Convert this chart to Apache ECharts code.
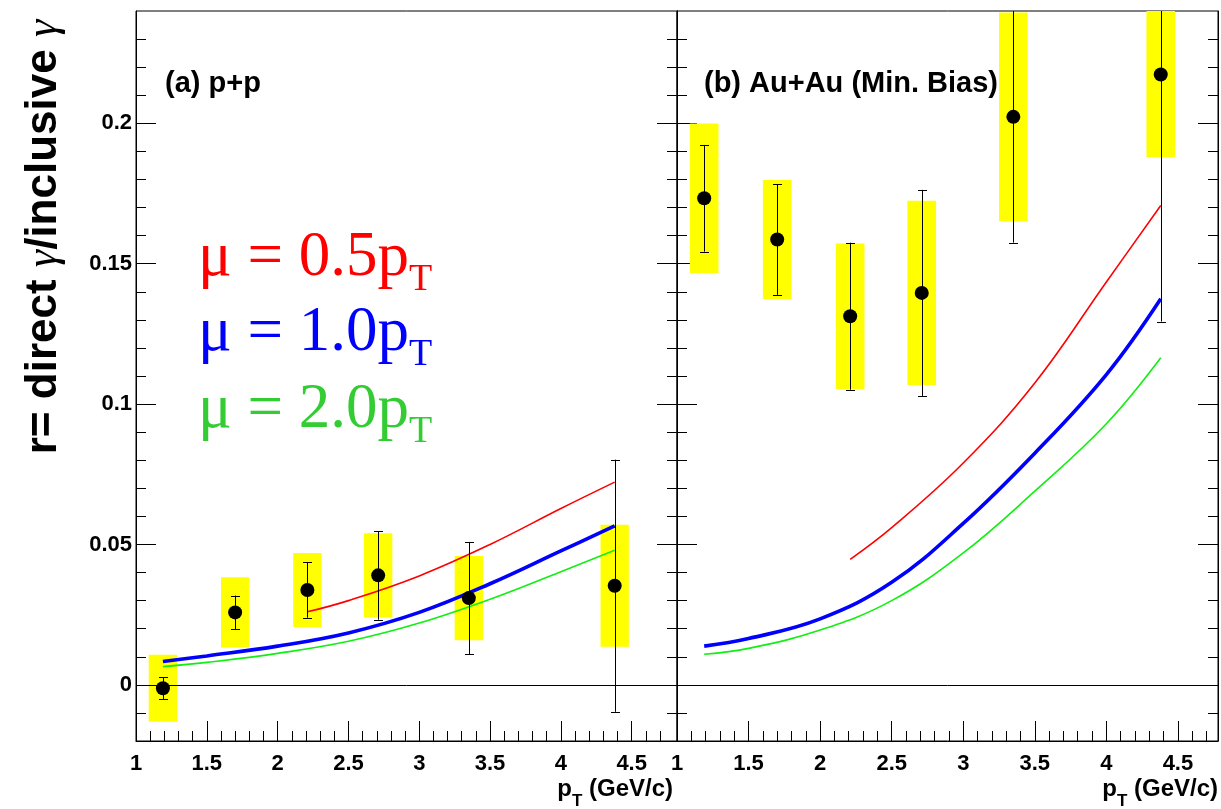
<!DOCTYPE html>
<html>
<head>
<meta charset="utf-8">
<script src="https://cdn.jsdelivr.net/npm/echarts@6/dist/echarts.min.js"></script>
<style>
html,body{margin:0;padding:0;background:#fff;}
#c{width:1221px;height:809px;}
</style>
</head>
<body>
<div id="c"></div>
<script>
// ---------------- data ----------------
const ptPoints = [1.19, 1.70, 2.21, 2.71, 3.35, 4.38];

// (a) p+p
const ppValues  = [-0.0012, 0.0258, 0.0338, 0.0390, 0.0309, 0.0353];
const ppStatErr = [0.0039, 0.0060, 0.0099, 0.0158, 0.0200, 0.0449];
const ppSysErr  = [0.0119, 0.0125, 0.0132, 0.0150, 0.0150, 0.0217];

// (b) Au+Au (Min. Bias)
const auValues  = [0.1733, 0.1586, 0.1313, 0.1396, 0.2023, 0.2174];
const auStatErr = [0.0190, 0.0197, 0.0262, 0.0367, 0.0448, 0.0880];
const auSysErr  = [0.0266, 0.0212, 0.0259, 0.0328, 0.0372, 0.0294];

const sysHalfWidth = 0.1;

// theory curves
const ptCurve    = [1.19, 1.5, 2.0, 2.5, 3.0, 3.5, 4.0, 4.38];
const ptCurveRed = [2.21, 2.5, 3.0, 3.5, 4.0, 4.38];
const ppMu05 = [0.0260, 0.0300, 0.0388, 0.0500, 0.0628, 0.0722];
const ppMu10 = [0.0083, 0.0103, 0.0138, 0.0185, 0.0258, 0.0360, 0.0477, 0.0566];
const ppMu20 = [0.0065, 0.0080, 0.0112, 0.0155, 0.0220, 0.0305, 0.0403, 0.0479];
const auMu05 = [0.0447, 0.0560, 0.0790, 0.1075, 0.1435, 0.1707];
const auMu10 = [0.0138, 0.0165, 0.0235, 0.0365, 0.0575, 0.0825, 0.1105, 0.1375];
const auMu20 = [0.0109, 0.0130, 0.0195, 0.0300, 0.0470, 0.0690, 0.0930, 0.1165];

// axes
const xMinLeft = 1, xMaxLeft = 4.82;
const xMinRight = 1, xMaxRight = 4.78;
const yMin = -0.02, yMax = 0.24;
const xMajorTicks = [1, 1.5, 2, 2.5, 3, 3.5, 4, 4.5];
const xTickLabels = ['1', '1.5', '2', '2.5', '3', '3.5', '4', '4.5'];
const xMinorTicks = [1.1, 1.2, 1.3, 1.4, 1.6, 1.7, 1.8, 1.9, 2.1, 2.2, 2.3, 2.4, 2.6, 2.7, 2.8, 2.9,
                     3.1, 3.2, 3.3, 3.4, 3.6, 3.7, 3.8, 3.9, 4.1, 4.2, 4.3, 4.4, 4.6, 4.7];
const yMajorTicks = [0, 0.05, 0.1, 0.15, 0.2];
const yTickLabels = ['0', '0.05', '0.1', '0.15', '0.2'];
const yMinorTicks = [-0.01, 0.01, 0.02, 0.03, 0.04, 0.06, 0.07, 0.08, 0.09, 0.11, 0.12, 0.13, 0.14,
                     0.16, 0.17, 0.18, 0.19, 0.21, 0.22, 0.23];

const panelLabels = ['(a) p+p', '(b) Au+Au (Min. Bias)'];
const scaleLabels = ['μ = 0.5p', 'μ = 1.0p', 'μ = 2.0p'];
const yTitleParts = ['r= direct ', 'γ', '/inclusive ', 'γ'];
const xTitleParts = ['p', 'T', ' (GeV/c)'];

// ---------------- styling / helpers ----------------
const C_RED = '#ff0000', C_BLUE = '#0000ff', C_GREEN_LINE = '#11ee11', C_GREEN_TEXT = '#33cc33';
const SANS = 'Liberation Sans', SERIF = 'Liberation Serif';
const TICK_FONT = {fontFamily: SANS, fontWeight: 'bold', fontSize: 22, color: '#000'};

function labelFor(ticks, labels) {
  return function (v) {
    const i = ticks.findIndex(t => Math.abs(t - v) < 1e-9);
    return i >= 0 ? labels[i] : '';
  };
}

function xAxesFor(gridIndex, min, max) {
  return [
    {type: 'value', gridIndex, min, max, position: 'bottom',
     axisLine: {show: true, onZero: false, lineStyle: {color: '#000', width: 1}},
     axisTick: {show: true, inside: true, length: 20, customValues: xMajorTicks, lineStyle: {color: '#000', width: 1}},
     axisLabel: Object.assign({show: true, customValues: xMajorTicks, formatter: labelFor(xMajorTicks, xTickLabels), margin: 12}, TICK_FONT),
     splitLine: {show: false}},
    {type: 'value', gridIndex, min, max, position: 'bottom',
     axisLine: {show: false, onZero: false},
     axisTick: {show: true, inside: true, length: 10, customValues: xMinorTicks, lineStyle: {color: '#000', width: 1}},
     axisLabel: {show: false}, splitLine: {show: false}}
  ];
}

function yAxesFor(gridIndex, showLabel) {
  const base = {type: 'value', gridIndex, min: yMin, max: yMax, splitLine: {show: false}};
  return [
    Object.assign({}, base, {position: 'left',
      axisLine: {show: true, onZero: false, lineStyle: {color: '#000', width: 1}},
      axisTick: {show: true, inside: true, length: 20, customValues: yMajorTicks, lineStyle: {color: '#000'}},
      axisLabel: Object.assign({show: showLabel, customValues: yMajorTicks, formatter: labelFor(yMajorTicks, yTickLabels), margin: 4}, TICK_FONT)}),
    Object.assign({}, base, {position: 'left',
      axisLine: {show: false, onZero: false},
      axisTick: {show: true, inside: true, length: 10, customValues: yMinorTicks, lineStyle: {color: '#000'}},
      axisLabel: {show: false}}),
    Object.assign({}, base, {position: 'right',
      axisLine: {show: true, onZero: false, lineStyle: {color: '#000', width: 1}},
      axisTick: {show: true, inside: true, length: 20, customValues: yMajorTicks, lineStyle: {color: '#000'}},
      axisLabel: {show: false}}),
    Object.assign({}, base, {position: 'right',
      axisLine: {show: false, onZero: false},
      axisTick: {show: true, inside: true, length: 10, customValues: yMinorTicks, lineStyle: {color: '#000'}},
      axisLabel: {show: false}})
  ];
}

function boxItem(params, api) {
  const x = api.value(0), y = api.value(1), e = api.value(2);
  const p1 = api.coord([x - sysHalfWidth, y + e]);
  const p2 = api.coord([x + sysHalfWidth, y - e]);
  const cs = params.coordSys;
  const rect = echarts.graphic.clipRectByRect(
    {x: p1[0], y: p1[1], width: p2[0] - p1[0], height: p2[1] - p1[1]},
    {x: cs.x, y: cs.y, width: cs.width, height: cs.height});
  if (!rect) return null;
  return {type: 'rect', shape: rect, style: {fill: '#ffff00'}};
}

function errItem(params, api) {
  const x = api.value(0), y = api.value(1), e = api.value(2);
  const cs = params.coordSys;
  const top = api.coord([x, y + e]), bot = api.coord([x, y - e]);
  const px = Math.round(top[0]) + 0.5;
  const yTop = Math.max(top[1], cs.y), yBot = Math.min(bot[1], cs.y + cs.height);
  const st = {stroke: '#000', lineWidth: 1};
  const children = [{type: 'line', shape: {x1: px, y1: yTop, x2: px, y2: yBot}, style: st}];
  const cap = 4.5;
  if (top[1] >= cs.y) {
    const yy = Math.round(top[1]) + 0.5;
    children.push({type: 'line', shape: {x1: px - cap, y1: yy, x2: px + cap, y2: yy}, style: st});
  }
  if (bot[1] <= cs.y + cs.height) {
    const yy = Math.round(bot[1]) + 0.5;
    children.push({type: 'line', shape: {x1: px - cap, y1: yy, x2: px + cap, y2: yy}, style: st});
  }
  return {type: 'group', children};
}

function curve(xs, ys, color, width, g) {
  return {type: 'line', xAxisIndex: 2 * g, yAxisIndex: 4 * g, data: xs.map((x, i) => [x, ys[i]]),
          showSymbol: false, smooth: 0.4, z: 3, silent: true,
          lineStyle: {color, width}};
}

function panelSeries(g, values, stat, sys, mu05, mu10, mu20) {
  const sysData = ptPoints.map((x, i) => [x, values[i], sys[i]]);
  const statData = ptPoints.map((x, i) => [x, values[i], stat[i]]);
  return [
    {type: 'custom', xAxisIndex: 2 * g, yAxisIndex: 4 * g, renderItem: boxItem, data: sysData, z: 2, silent: true,
     encode: {x: 0, y: 1}},
    curve(ptCurveRed, mu05, C_RED, 1.6, g),
    curve(ptCurve, mu20, C_GREEN_LINE, 1.6, g),
    curve(ptCurve, mu10, C_BLUE, 3.6, g),
    {type: 'custom', xAxisIndex: 2 * g, yAxisIndex: 4 * g, renderItem: errItem, data: statData, z: 4, silent: true,
     encode: {x: 0, y: 1}},
    {type: 'scatter', xAxisIndex: 2 * g, yAxisIndex: 4 * g, data: ptPoints.map((x, i) => [x, values[i]]),
     symbol: 'circle', symbolSize: 14, itemStyle: {color: '#000', opacity: 1}, z: 5, silent: true,
     markLine: {silent: true, symbol: ['none', 'none'], label: {show: false}, animation: false,
                lineStyle: {color: '#000', width: 1, type: 'solid', opacity: 1}, data: [{yAxis: 0}]}}
  ];
}

// text runs positioned by baseline
const measureCtx = document.createElement('canvas').getContext('2d');
const MID = {'Liberation Sans': 0.3465, 'Liberation Serif': 0.3375};
function fontStr(p) { return `${p.style || 'normal'} ${p.weight || 'normal'} ${p.size}px "${p.family}"`; }
function textRun(parts, x, baseline, align) {
  const widths = parts.map(p => { measureCtx.font = fontStr(p); return measureCtx.measureText(p.text).width; });
  const total = widths.reduce((a, b) => a + b, 0);
  let cx = align === 'right' ? x - total : (align === 'center' ? x - total / 2 : x);
  return parts.map((p, i) => {
    const el = {type: 'text', x: cx, y: baseline + (p.dy || 0) - MID[p.family] * p.size, silent: true,
      style: {text: p.text, fill: p.color || '#000', fontSize: p.size, fontFamily: p.family,
              fontWeight: p.weight || 'normal', fontStyle: p.style || 'normal', align: 'left', verticalAlign: 'middle'}};
    cx += widths[i];
    return el;
  });
}

const graphics = [];
// panel labels
graphics.push(...textRun([{text: panelLabels[0], size: 29, weight: 'bold', family: SANS}], 165, 94, 'left'));
graphics.push(...textRun([{text: panelLabels[1], size: 29, weight: 'bold', family: SANS}], 704, 94, 'left'));
// scale legend
const scaleColors = [C_RED, C_BLUE, C_GREEN_TEXT];
const scaleBaselines = [280, 355, 432];
scaleLabels.forEach((t, i) => {
  graphics.push(...textRun([
    {text: t, size: 63, family: SERIF, color: scaleColors[i]},
    {text: 'T', size: 38, family: SERIF, color: scaleColors[i], dy: 13}
  ], 198, scaleBaselines[i], 'left'));
});
// x titles
function xTitle(rightX) {
  return textRun([
    {text: xTitleParts[0], size: 24, weight: 'bold', family: SANS},
    {text: xTitleParts[1], size: 17, weight: 'bold', family: SANS, dy: 9},
    {text: xTitleParts[2], size: 24, weight: 'bold', family: SANS}
  ], rightX, 798, 'right');
}
graphics.push(...xTitle(673));
graphics.push(...xTitle(1218));
// y title (rotated)
graphics.push({type: 'group', x: 59, y: 237, rotation: Math.PI / 2, silent: true,
  children: textRun([
    {text: yTitleParts[0], size: 44, weight: 'bold', family: SANS},
    {text: yTitleParts[1], size: 44, style: 'italic', family: SERIF},
    {text: yTitleParts[2], size: 44, weight: 'bold', family: SANS},
    {text: yTitleParts[3], size: 44, style: 'italic', family: SERIF}
  ], 0, 0, 'center')});

const option = {
  animation: false,
  backgroundColor: '#fff',
  grid: [
    {left: 136, top: 11, width: 541, height: 730, show: true, borderColor: '#000', borderWidth: 1, backgroundColor: 'transparent'},
    {left: 677, top: 11, width: 541, height: 730, show: true, borderColor: '#000', borderWidth: 1, backgroundColor: 'transparent'}
  ],
  xAxis: [...xAxesFor(0, xMinLeft, xMaxLeft), ...xAxesFor(1, xMinRight, xMaxRight)],
  yAxis: [...yAxesFor(0, true), ...yAxesFor(1, false)],
  series: [
    ...panelSeries(0, ppValues, ppStatErr, ppSysErr, ppMu05, ppMu10, ppMu20),
    ...panelSeries(1, auValues, auStatErr, auSysErr, auMu05, auMu10, auMu20)
  ],
  graphic: graphics
};

const chart = echarts.init(document.getElementById('c'));
chart.setOption(option);
</script>
</body>
</html>
